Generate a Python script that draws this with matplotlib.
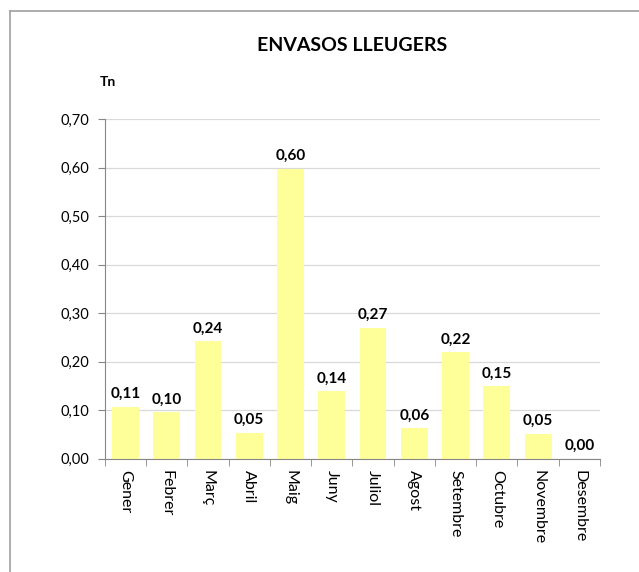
import numpy as np
import matplotlib
matplotlib.use('Agg')
from matplotlib import pyplot as plt
from matplotlib.lines import Line2D

plt.rcParams['font.family'] = ['Lato', 'DejaVu Sans']

months = ['Gener', 'Febrer', 'Març', 'Abril', 'Maig', 'Juny',
          'Juliol', 'Agost', 'Setembre', 'Octubre', 'Novembre', 'Desembre']
tones = [0.107, 0.096, 0.242, 0.054, 0.597, 0.139,
         0.270, 0.063, 0.219, 0.149, 0.052, 0.0]
yticks = [0.0, 0.1, 0.2, 0.3, 0.4, 0.5, 0.6, 0.7]

fig = plt.figure(figsize=(6.39, 5.72), dpi=100)
ax = fig.add_axes([0.164, 0.198, 0.775, 0.594])

x = np.arange(len(months))
ax.bar(x, tones, width=0.65, color='#FFFF99', zorder=2)

for xi, v in zip(x, tones):
    ax.text(xi, v + 0.012, f'{v:.2f}'.replace('.', ','), ha='center', va='bottom',
            fontsize=11, fontweight='bold')

ax.set_xlim(-0.5, len(months) - 0.5)
ax.set_ylim(0, 0.7)
ax.set_yticks(yticks)
ax.set_yticklabels([f'{t:.2f}'.replace('.', ',') for t in yticks], fontsize=10.5)
ax.yaxis.grid(True, color='#D9D9D9', linewidth=0.9, zorder=0)
ax.set_axisbelow(True)

ax.set_xticks(x)
ax.set_xticklabels(months, rotation=-90, fontsize=11.5, va='top', ha='center')
ax.set_xticks(np.arange(-0.5, len(months)), minor=True)
ax.tick_params(axis='x', which='major', length=0, pad=8)
ax.tick_params(axis='x', which='minor', length=5, color='#868686', direction='out')
ax.tick_params(axis='y', length=5, color='#868686', pad=6)

for s in ['top', 'right']:
    ax.spines[s].set_visible(False)
for s in ['left', 'bottom']:
    ax.spines[s].set_color('#868686')

fig.text(0.551, 0.92, 'ENVASOS LLEUGERS', ha='center', va='center',
         fontsize=14, fontweight='bold')
fig.text(0.156, 0.857, 'Tn', ha='left', va='center', fontsize=10, fontweight='bold')

# chart border (cropped)
fig.add_artist(Line2D([0.016, 1.0], [0.981, 0.981], color='#A0A0A0', linewidth=1.2))
fig.add_artist(Line2D([0.016, 0.016], [0.0, 0.981], color='#A0A0A0', linewidth=1.2))

fig.savefig('out.png', dpi=100)
